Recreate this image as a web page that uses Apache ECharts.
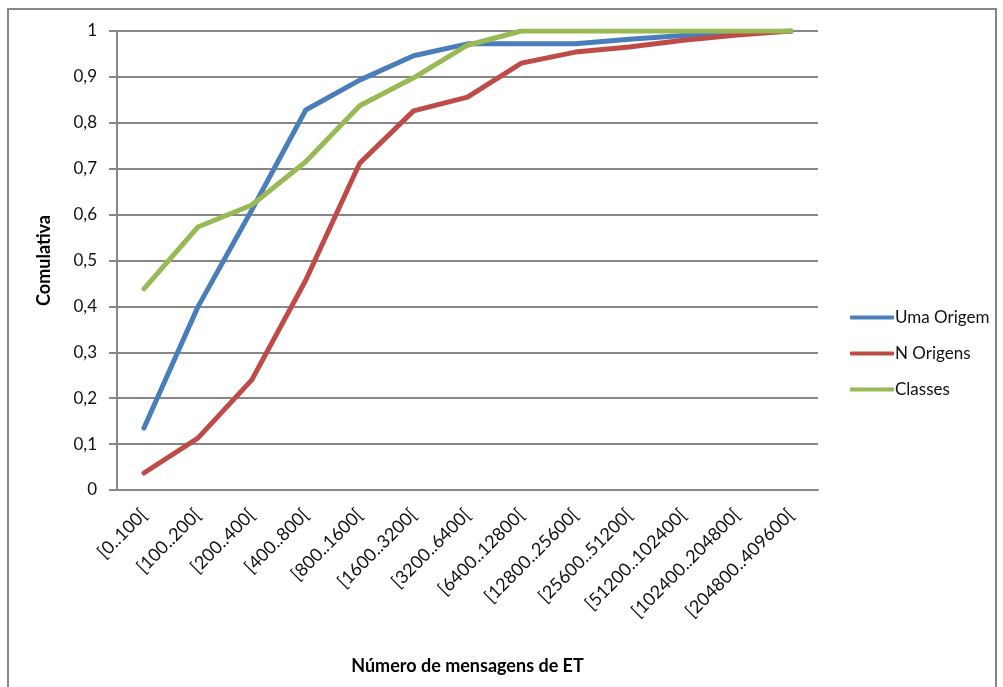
<!DOCTYPE html>
<html>
<head>
<meta charset="utf-8">
<script src="https://cdn.jsdelivr.net/npm/echarts@6/dist/echarts.min.js"></script>
<style>
  html, body { margin: 0; padding: 0; background: #fff; }
  #main { width: 1003px; height: 687px; }
</style>
</head>
<body>
<div id="main"></div>
<script>
var categories = ['[0..100[', '[100..200[', '[200..400[', '[400..800[', '[800..1600[', '[1600..3200[',
    '[3200..6400[', '[6400..12800[', '[12800..25600[', '[25600..51200[', '[51200..102400[',
    '[102400..204800[', '[204800..409600['];
var umaOrigem = [0.135, 0.399, 0.61, 0.828, 0.893, 0.946, 0.972, 0.972, 0.972, 0.982, 0.99, 0.996, 1];
var nOrigens = [0.037, 0.113, 0.24, 0.457, 0.712, 0.826, 0.856, 0.93, 0.954, 0.965, 0.98, 0.991, 1];
var classes = [0.438, 0.573, 0.621, 0.715, 0.837, 0.898, 0.969, 1, 1, 1, 1, 1, 1];

var myChart = echarts.init(document.getElementById('main'));
var font = 'Lato, "Open Sans", sans-serif';
var gray = '#878787';

function line(name, data, color) {
    return {
        name: name,
        type: 'line',
        data: data,
        symbol: 'none',
        lineStyle: { width: 5, color: color, cap: 'round', join: 'round' },
        itemStyle: { color: color }
    };
}

var option = {
    animation: false,
    textStyle: { fontFamily: font },
    graphic: [{
        type: 'rect',
        shape: { x: 8, y: 9, width: 988, height: 690 },
        style: { fill: 'none', stroke: gray, lineWidth: 2 }
    }],
    grid: { left: 117, right: 185, top: 31, bottom: 197 },
    legend: {
        orient: 'vertical',
        left: 845,
        top: 304,
        itemWidth: 44,
        itemHeight: 4,
        itemGap: 19,
        icon: 'roundRect',
        textStyle: { fontFamily: font, fontSize: 17, color: '#111', padding: [0, 0, 0, -4] },
        data: ['Uma Origem', 'N Origens', 'Classes']
    },
    xAxis: {
        type: 'category',
        data: categories,
        boundaryGap: true,
        name: 'Número de mensagens de ET',
        nameLocation: 'middle',
        nameGap: 167,
        nameTextStyle: { fontFamily: font, fontSize: 18, fontWeight: 'bold', color: '#000' },
        axisLine: { lineStyle: { color: gray, width: 2 } },
        axisTick: { length: 8, lineStyle: { color: gray, width: 2 } },
        axisLabel: { rotate: 45, fontSize: 18, color: '#111', margin: 22, interval: 0 }
    },
    yAxis: {
        type: 'value',
        min: 0,
        max: 1,
        interval: 0.1,
        name: 'Comulativa',
        nameLocation: 'middle',
        nameGap: 64,
        nameRotate: 90,
        nameTextStyle: { fontFamily: font, fontSize: 18, fontWeight: 'bold', color: '#000' },
        axisLine: { show: true, lineStyle: { color: gray, width: 2 } },
        axisTick: { show: true, length: 8, lineStyle: { color: gray, width: 2 } },
        axisLabel: {
            fontSize: 17, color: '#111', margin: 20,
            formatter: function (v) { return (Math.round(v * 10) / 10).toString().replace('.', ','); }
        },
        splitLine: { lineStyle: { color: gray, width: 2 } }
    },
    series: [
        line('Uma Origem', umaOrigem, '#4A7EBB'),
        line('N Origens', nOrigens, '#BE4B48'),
        line('Classes', classes, '#98B954')
    ]
};
myChart.setOption(option);
</script>
</body>
</html>
